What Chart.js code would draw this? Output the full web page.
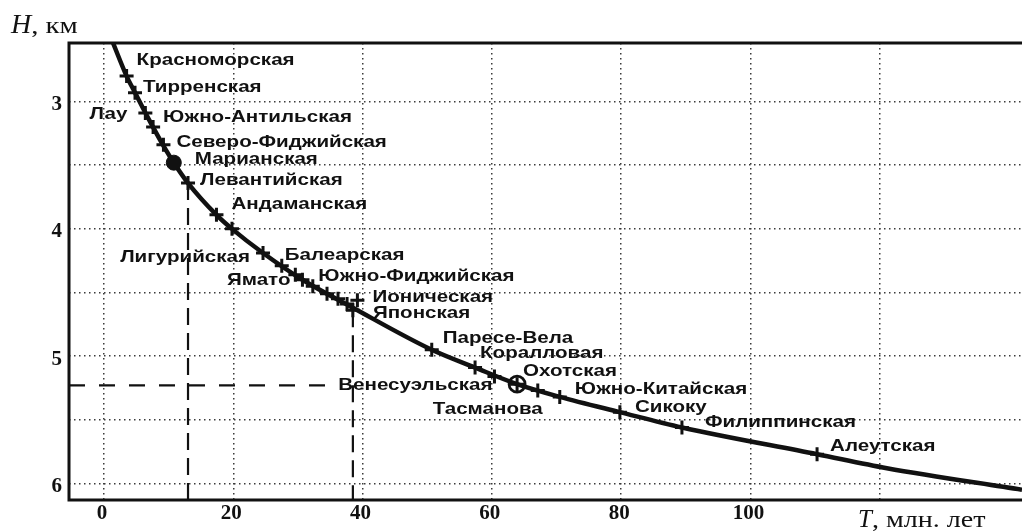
<!DOCTYPE html>
<html lang="ru">
<head>
<meta charset="utf-8">
<title>Глубина дна и возраст окраинных морей</title>
<script src="https://cdn.jsdelivr.net/npm/chart.js@4.4.1/dist/chart.umd.min.js"></script>
<style>
  html, body { margin: 0; padding: 0; background: #fff; }
  #wrap { width: 1022px; height: 531px; }
  canvas { display: block; }
</style>
</head>
<body>
<div id="wrap"><canvas id="chart" width="1022" height="531"></canvas></div>
<script>
// Basins: age T (Myr) and floor depth H (km)
const seaNames = [
  'Красноморская', 'Тирренская', 'Лау', 'Южно-Антильская', 'Северо-Фиджийская',
  'Марианская', 'Левантийская', 'Андаманская', '', 'Лигурийская',
  'Балеарская', 'Южно-Фиджийская', 'Ямато', '', '',
  '', '', 'Ионическая', 'Японская', 'Паресе-Вела',
  'Коралловая', 'Венесуэльская', 'Охотская', 'Тасманова', 'Южно-Китайская',
  'Сикоку', 'Филиппинская', 'Алеутская'
];
const seaAge = [
  3.5, 4.8, 6.4, 7.6, 9.2,
  10.8, 13.0, 17.4, 19.8, 24.6,
  27.5, 29.6, 30.7, 32.3, 34.5,
  36.2, 37.6, 39.2, 38.5, 50.7,
  57.4, 60.4, 63.9, 67.1, 70.5,
  79.8, 89.4, 110.3
];
const seaDepth = [
  2.80, 2.93, 3.09, 3.20, 3.34,
  3.48, 3.64, 3.89, 4.00, 4.19,
  4.29, 4.36, 4.40, 4.45, 4.51,
  4.55, 4.59, 4.56, 4.64, 4.95,
  5.09, 5.16, 5.22, 5.27, 5.32,
  5.44, 5.56, 5.77
];

// Depth–age trend line
const curveAge   = [1.4, 3.5, 4.8, 7.15, 9.45, 10.8, 13.0, 17.4, 19.8, 24.6, 30.7, 38.5, 50.7, 57.4, 63.9, 70.5, 79.8, 89.4, 110.3, 121.1, 142.0];
const curveDepth = [2.54, 2.80, 2.93, 3.16, 3.37, 3.48, 3.64, 3.89, 4.00, 4.19, 4.40, 4.62, 4.95, 5.09, 5.22, 5.32, 5.44, 5.56, 5.77, 5.88, 6.05];

// Axis ranges and tick labels
const ageRange   = [-5.41, 142.0];
const depthRange = [2.54, 6.13];
const ageTicks   = [0, 20, 40, 60, 80, 100];
const depthTicks = [3, 4, 5, 6];

// Dashed reading guides
const guideAges      = [13.0, 38.5];
const guideAgeTops   = [3.64, 4.64];
const guideDepth     = 5.23;
const guideDepthEnd  = 35.3;

// Special markers
const filledCircleSeas = ['Марианская'];
const ringCrossSeas    = ['Охотская'];

// Label placement relative to the marker: [dx, dy, align]
const labelPlacement = {
  'Красноморская':    [10, -16, 'left'],
  'Тирренская':       [8, -5, 'left'],
  'Лау':              [-18, 1, 'right'],
  'Южно-Антильская':  [10, -10, 'left'],
  'Северо-Фиджийская':[13, -3, 'left'],
  'Марианская':       [21, -3, 'left'],
  'Левантийская':     [12, -3, 'left'],
  'Андаманская':      [15, -11, 'left'],
  'Лигурийская':      [-13, 4, 'right'],
  'Балеарская':       [3, -10, 'left'],
  'Южно-Фиджийская':  [23, 2, 'left'],
  'Ямато':            [-12, 1, 'right'],
  'Ионическая':       [15, -3, 'left'],
  'Японская':         [20, 3, 'left'],
  'Паресе-Вела':      [11, -11, 'left'],
  'Коралловая':       [5, -14, 'left'],
  'Венесуэльская':    [-2, 9, 'right'],
  'Охотская':         [6, -13, 'left'],
  'Тасманова':        [5, 19, 'right'],
  'Южно-Китайская':   [15, -8, 'left'],
  'Сикоку':           [15, -5, 'left'],
  'Филиппинская':     [23, -5, 'left'],
  'Алеутская':        [13, -8, 'left']
};

const INK = '#111';
const GRID = '#3a3a3a';

const pts = seaAge.map((t, i) => ({ x: t, y: seaDepth[i] }));
const crossPts = pts.filter((p, i) => !filledCircleSeas.includes(seaNames[i]));
const filledPts = pts.filter((p, i) => filledCircleSeas.includes(seaNames[i]));
const ringPts = pts.filter((p, i) => ringCrossSeas.includes(seaNames[i]));

const guideDatasets = guideAges.map((t, i) => ({
  type: 'line',
  data: [{ x: t, y: guideAgeTops[i] }, { x: t, y: depthRange[1] }],
  borderColor: INK, borderWidth: 2.2, borderDash: [17, 8],
  pointRadius: 0, fill: false, order: 5
}));
guideDatasets.push({
  type: 'line',
  data: [{ x: ageRange[0], y: guideDepth }, { x: guideDepthEnd, y: guideDepth }],
  borderColor: INK, borderWidth: 2.2, borderDash: [16, 14],
  pointRadius: 0, fill: false, order: 5
});

// Axis frame, tick labels, titles and basin names
const decorPlugin = {
  id: 'decor',
  afterDatasetsDraw(chart) {
    const { ctx, chartArea: a, scales: { x, y } } = chart;
    ctx.save();

    // frame on left, top and bottom
    ctx.strokeStyle = INK;
    ctx.lineWidth = 3;
    ctx.beginPath();
    ctx.moveTo(chart.width, a.top);
    ctx.lineTo(a.left, a.top);
    ctx.lineTo(a.left, a.bottom);
    ctx.lineTo(chart.width, a.bottom);
    ctx.stroke();

    // tick labels
    ctx.fillStyle = INK;
    ctx.font = 'bold 21px "Liberation Serif"';
    ctx.textBaseline = 'middle';
    ctx.textAlign = 'center';
    ageTicks.forEach(v => ctx.fillText(String(v), x.getPixelForValue(v) - 2, a.bottom + 14));
    ctx.textAlign = 'right';
    depthTicks.forEach(v => ctx.fillText(String(v), a.left - 7, y.getPixelForValue(v) + 3));

    // axis titles
    ctx.textBaseline = 'alphabetic';
    ctx.textAlign = 'left';
    ctx.font = 'italic 28px "Liberation Serif"';
    ctx.fillText('H', 11, 33);
    let w = ctx.measureText('H').width;
    ctx.font = '24px "Liberation Serif"';
    ctx.save();
    ctx.translate(11 + w, 33);
    ctx.scale(1.2, 1);
    ctx.fillText(', км', 0, 0);
    ctx.restore();

    ctx.font = 'italic 25px "Liberation Serif"';
    ctx.fillText('T', 858, 527);
    w = ctx.measureText('T').width;
    ctx.font = '24px "Liberation Serif"';
    ctx.save();
    ctx.translate(858 + w, 527);
    ctx.scale(1.17, 1);
    ctx.fillText(', млн. лет', 0, 0);
    ctx.restore();

    // basin names
    const meta = chart.getDatasetMeta(1);
    ctx.font = 'bold 17px "Liberation Sans"';
    ctx.textBaseline = 'middle';
    const crossNames = seaNames.filter(n => !filledCircleSeas.includes(n));
    const filledMeta = chart.getDatasetMeta(2);
    const drawLabel = (name, el) => {
      const place = labelPlacement[name];
      if (!name || !place) return;
      ctx.save();
      ctx.translate(el.x + place[0], el.y + place[1]);
      ctx.scale(1.21, 1);
      ctx.textAlign = place[2];
      ctx.fillText(name, 0, 0);
      ctx.restore();
    };
    crossNames.forEach((name, i) => drawLabel(name, meta.data[i]));
    filledCircleSeas.forEach((name, i) => drawLabel(name, filledMeta.data[i]));

    ctx.restore();
  }
};

new Chart(document.getElementById('chart'), {
  type: 'scatter',
  data: {
    datasets: [
      {
        type: 'line',
        data: curveAge.map((t, i) => ({ x: t, y: curveDepth[i] })),
        borderColor: INK, borderWidth: 4.5,
        pointRadius: 0, fill: false,
        cubicInterpolationMode: 'monotone', order: 4
      },
      {
        data: crossPts,
        pointStyle: 'cross', pointRadius: 7, pointBorderWidth: 3,
        borderColor: INK, backgroundColor: INK, order: 1
      },
      {
        data: filledPts,
        pointStyle: 'circle', pointRadius: 7.5, pointBorderWidth: 1,
        borderColor: INK, backgroundColor: INK, order: 1
      },
      {
        data: ringPts,
        pointStyle: 'circle', pointRadius: 8, pointBorderWidth: 2.8,
        borderColor: INK, backgroundColor: 'rgba(0,0,0,0)', order: 0
      },
      ...guideDatasets
    ]
  },
  options: {
    responsive: false,
    animation: false,
    layout: { autoPadding: false, padding: { left: 69, top: 43, right: 0, bottom: 31 } },
    plugins: { legend: { display: false }, tooltip: { enabled: false } },
    scales: {
      x: {
        type: 'linear', min: ageRange[0], max: ageRange[1],
        ticks: { display: false, stepSize: 20, includeBounds: false },
        grid: {
          drawTicks: false, lineWidth: 1.5,
          color: c => (c.tick && c.tick.value >= 0 && c.tick.value <= 120) ? GRID : 'rgba(0,0,0,0)'
        },
        border: { display: false, dash: [1.5, 3.5] }
      },
      y: {
        type: 'linear', reverse: true, min: depthRange[0], max: depthRange[1],
        ticks: { display: false, stepSize: 0.5, includeBounds: false },
        grid: { drawTicks: false, lineWidth: 1.5, color: GRID },
        border: { display: false, dash: [1.5, 3.5] }
      }
    }
  },
  plugins: [decorPlugin]
});
</script>
</body>
</html>
